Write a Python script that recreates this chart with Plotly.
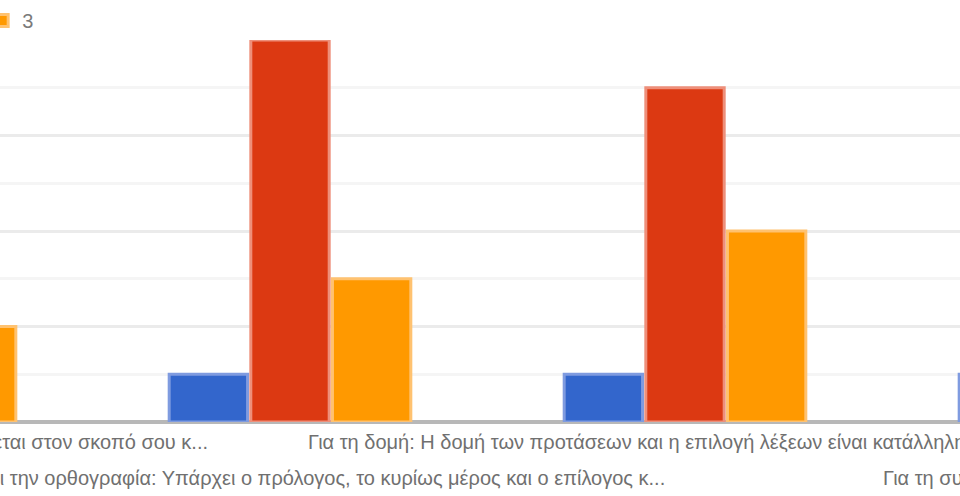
import plotly.graph_objects as go

categories = [
    "Για το περιεχόμενο: Το κείμενο ανταποκρίνεται στον σκοπό σου κ...",
    "Για τη γλώσσα και την ορθογραφία: Υπάρχει ο πρόλογος, το κυρίως μέρος και ο επίλογος κ...",
    "Για τη δομή: Η δομή των προτάσεων και η επιλογή λέξεων είναι κατάλληλη για τον αναγνώστη κ...",
    "Για τη συνοχή: Οι παράγραφοι συνδέονται μεταξύ τους κ...",
]
series_names = ["1", "2", "3"]
series_values = {
    "1": [1, 1, 1, 1],
    "2": [8, 8, 7, 7],
    "3": [2, 3, 4, 3],
}
colors = {"1": "#3366cc", "2": "#dc3912", "3": "#ff9900"}
edge_colors = {"1": "#7f9be0", "2": "#ee8f7a", "3": "#ffc270"}

# label rows (0 = upper row, 1 = lower row), anchor and shift (in category units)
label_row = [0, 1, 0, 1]
label_anchor = ["right", "right", "left", "left"]
label_offset = [0.797, 0.954, -0.960, -0.503]

fig = go.Figure()
for name in series_names:
    fig.add_trace(go.Bar(
        name=name,
        x=categories,
        y=series_values[name],
        marker=dict(color=colors[name], line=dict(color=edge_colors[name], width=3)),
    ))

H_TOP, H_BOT = 40, 74
plot_h = 496 - H_TOP - H_BOT
row_y = [-(442 - 422) / plot_h, -(478 - 422) / plot_h]

for i, cat in enumerate(categories):
    fig.add_annotation(
        x=i + label_offset[i], xref="x", y=row_y[label_row[i]], yref="paper",
        text=cat, showarrow=False, xanchor=label_anchor[i], yanchor="middle",
        font=dict(family="Liberation Sans, Arial", size=20, color="#707070"),
    )

fig.update_layout(
    width=960, height=496,
    margin=dict(l=0, r=0, t=H_TOP, b=H_BOT, autoexpand=False),
    paper_bgcolor="white", plot_bgcolor="white",
    barmode="group", bargap=0.38, bargroupgap=0.04,
    showlegend=True,
    legend=dict(orientation="h", x=-0.1355, y=1.0, xanchor="left", yanchor="bottom",
                font=dict(family="Liberation Sans, Arial", size=20, color="#7a7a7a"),
                traceorder="normal"),
    xaxis=dict(range=[0.2658, 2.6962], showticklabels=False, showgrid=False,
               zeroline=False, showline=False, ticks=""),
    yaxis=dict(range=[0, 8], showticklabels=False, dtick=2, showgrid=True,
               gridcolor="#ebebeb", gridwidth=3,
               minor=dict(dtick=1, showgrid=True, gridcolor="#f5f5f5", gridwidth=3),
               zeroline=True, zerolinecolor="#b8b8b8", zerolinewidth=4, showline=False),
)

fig.write_html("out.html",
               config={"displayModeBar": False},
               post_script="document.body.style.margin='0';document.body.style.overflow='hidden';")
